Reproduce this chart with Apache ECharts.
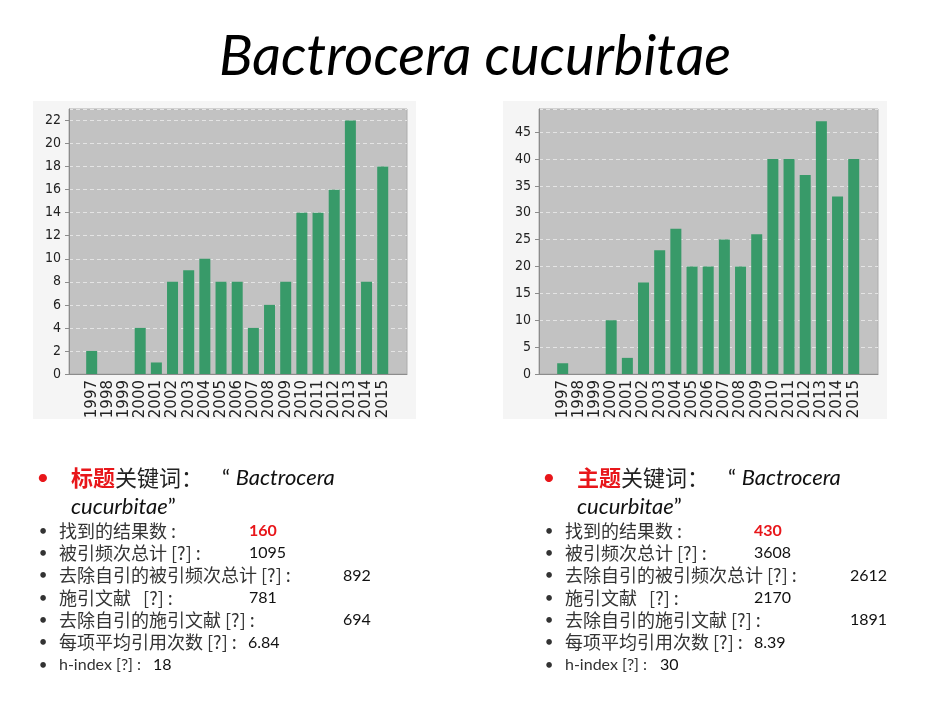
<!DOCTYPE html>
<html>
<head>
<meta charset="utf-8">
<script src="https://cdn.jsdelivr.net/npm/echarts@6/dist/echarts.min.js"></script>
<style>
  html, body { margin: 0; padding: 0; background: #fff; }
  #main { width: 950px; height: 713px; }
</style>
</head>
<body>
<div id="main"></div>
<script>
// data
const years = ['1997', '1998', '1999', '2000', '2001', '2002', '2003', '2004', '2005', '2006',
  '2007', '2008', '2009', '2010', '2011', '2012', '2013', '2014', '2015'];
const titleCounts = [2, 0, 0, 4, 1, 8, 9, 10, 8, 8, 4, 6, 8, 14, 14, 16, 22, 8, 18];
const topicCounts = [2, 0, 0, 10, 3, 17, 23, 27, 20, 20, 25, 20, 26, 40, 40, 37, 47, 33, 40];

const statLabels = ['找到的结果数 :', '被引频次总计 [?] :', '去除自引的被引频次总计 [?] :',
  '施引文献   [?] :', '去除自引的施引文献 [?] :', '每项平均引用次数 [?] :', 'h-index [?] :'];
const titleStats = ['160', '1095', '892', '781', '694', '6.84', '18'];
const topicStats = ['430', '3608', '2612', '2170', '1891', '8.39', '30'];

const LATIN = 'Lato, "Noto Sans CJK SC", sans-serif';
const CJK = '"Noto Sans CJK SC", Lato, sans-serif';
const GREEN = '#389a69';

function outerAxes(max, interval) {
  return {
    x: {
      type: 'value', min: 0, max: 1,
      axisLine: { show: true, lineStyle: { color: '#8c8c8c', width: 1 } },
      axisTick: { show: false }, axisLabel: { show: false }, splitLine: { show: false }
    },
    y: {
      type: 'value', min: 0, max: max, interval: interval,
      axisLine: { show: true, lineStyle: { color: '#8c8c8c', width: 1 } },
      axisTick: { show: true, length: 4, lineStyle: { color: '#8c8c8c' } },
      axisLabel: { showMaxLabel: false, color: '#222', fontSize: 14, fontFamily: '"DejaVu Sans Condensed", sans-serif', margin: 8 },
      splitLine: { show: true, lineStyle: { color: '#e4e4e4', type: [4, 3], width: 1 } }
    }
  };
}

function innerAxes(max) {
  return {
    x: {
      type: 'category', data: years,
      axisLine: { show: false }, axisTick: { show: false },
      axisLabel: { rotate: 90, interval: 0, color: '#222', fontSize: 15, fontFamily: '"DejaVu Sans", sans-serif', margin: 6 }
    },
    y: { type: 'value', min: 0, max: max, show: false }
  };
}

const L1 = outerAxes(23, 2), L2 = innerAxes(23);
const R1 = outerAxes(49.3, 5), R2 = innerAxes(49.3);

// text blocks under the charts
function statBlock(x0, keyword, values, valueX) {
  const els = [];
  els.push({ type: 'text', x: x0 + 1, y: 478, style: { text: '•', fill: '#e8161a', font: '22px ' + LATIN, verticalAlign: 'middle', align: 'center' } });
  els.push({
    type: 'text', x: x0 + 29, y: 478,
    style: {
      text: '{r|' + keyword + '}{k|关键词：}', verticalAlign: 'middle',
      rich: {
        r: { fill: '#e8161a', fontWeight: 'bold', fontSize: 22, fontFamily: CJK },
        k: { fill: '#222', fontSize: 22, fontFamily: CJK }
      }
    }
  });
  els.push({
    type: 'text', x: x0 + 180, y: 478,
    style: {
      text: '{q|“ }{i|Bactrocera}', verticalAlign: 'middle',
      rich: {
        q: { fill: '#111', fontSize: 22, fontFamily: LATIN },
        i: { fill: '#111', fontSize: 22, fontFamily: LATIN, fontStyle: 'italic' }
      }
    }
  });
  els.push({
    type: 'text', x: x0 + 29, y: 507,
    style: {
      text: '{i|cucurbitae}{q|”}', verticalAlign: 'middle',
      rich: {
        q: { fill: '#111', fontSize: 22, fontFamily: LATIN },
        i: { fill: '#111', fontSize: 22, fontFamily: LATIN, fontStyle: 'italic' }
      }
    }
  });
  statLabels.forEach(function (lab, i) {
    const y = 531 + i * 22.3;
    const latinOnly = /^[\x00-\x7f]*$/.test(lab);
    els.push({ type: 'text', x: x0 + 1, y: y, style: { text: '•', fill: '#333', font: '15px ' + LATIN, verticalAlign: 'middle', align: 'center' } });
    els.push({ type: 'text', x: x0 + 17, y: y, style: { text: lab, fill: '#333', fontSize: latinOnly ? 16 : 18, fontFamily: latinOnly ? LATIN : CJK, verticalAlign: 'middle' } });
    els.push({
      type: 'text', x: valueX[i], y: y,
      style: {
        text: values[i], fill: i === 0 ? '#e8161a' : '#111', fontSize: 16, fontFamily: LATIN,
        fontWeight: i === 0 ? 'bold' : 'normal', verticalAlign: 'middle'
      }
    });
  });
  return els;
}

const leftValueX = [249, 249, 343, 249, 343, 248, 153];
const rightValueX = [754, 754, 850, 754, 850, 754, 660];

const chart = echarts.init(document.getElementById('main'));
chart.setOption({
  backgroundColor: '#ffffff',
  animation: false,
  graphic: [
    { type: 'rect', z: -10, silent: true, shape: { x: 33, y: 101, width: 383, height: 318 }, style: { fill: '#f5f5f5' } },
    { type: 'rect', z: -10, silent: true, shape: { x: 503, y: 101, width: 384, height: 318 }, style: { fill: '#f5f5f5' } },
    { type: 'text', x: 475, y: 57, style: { text: 'Bactrocera cucurbitae', fill: '#000', fontSize: 56, fontStyle: 'italic', fontFamily: LATIN, align: 'center', verticalAlign: 'middle' } }
  ].concat(statBlock(42, '标题', titleStats, leftValueX), statBlock(548, '主题', topicStats, rightValueX)),
  grid: [
    { left: 69, top: 109, width: 338, height: 265, show: true, backgroundColor: '#c2c2c2', borderColor: '#adadad', borderWidth: 1 },
    { left: 83.6, top: 109, width: 307.2, height: 265 },
    { left: 539, top: 109, width: 339, height: 265, show: true, backgroundColor: '#c2c2c2', borderColor: '#adadad', borderWidth: 1 },
    { left: 554.6, top: 109, width: 307.2, height: 265 }
  ],
  xAxis: [
    Object.assign({ gridIndex: 0 }, L1.x),
    Object.assign({ gridIndex: 1 }, L2.x),
    Object.assign({ gridIndex: 2 }, R1.x),
    Object.assign({ gridIndex: 3 }, R2.x)
  ],
  yAxis: [
    Object.assign({ gridIndex: 0 }, L1.y),
    Object.assign({ gridIndex: 1 }, L2.y),
    Object.assign({ gridIndex: 2 }, R1.y),
    Object.assign({ gridIndex: 3 }, R2.y)
  ],
  series: [
    { type: 'bar', xAxisIndex: 1, yAxisIndex: 1, data: titleCounts, barWidth: 11, itemStyle: { color: GREEN } },
    { type: 'bar', xAxisIndex: 3, yAxisIndex: 3, data: topicCounts, barWidth: 11, itemStyle: { color: GREEN } }
  ]
});
</script>
</body>
</html>
